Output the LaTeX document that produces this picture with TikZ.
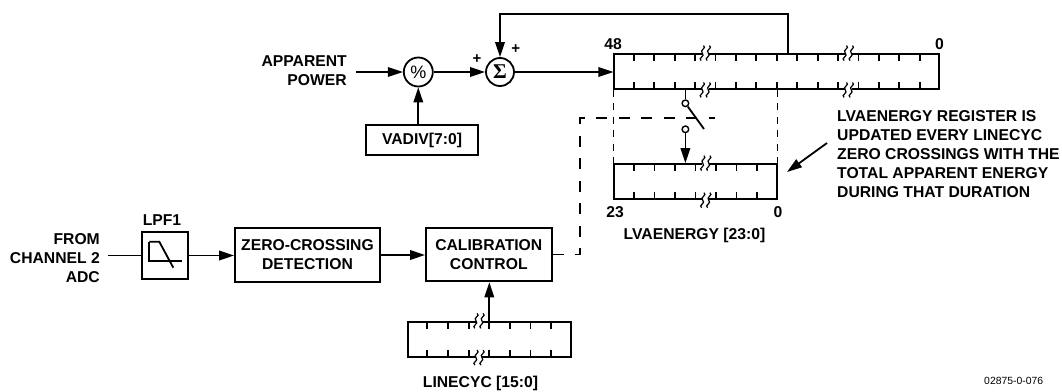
\documentclass[tikz,border=0pt]{standalone}
\usepackage{fontspec}
\setmainfont{Liberation Sans}
\newfontfamily\sigfont{Liberation Serif}
\usetikzlibrary{arrows.meta,calc}
\newcommand\dgfont{\fontsize{15.7}{19}\selectfont\bfseries}
\begin{document}
\begin{tikzpicture}[x=1pt,y=-1pt,
  >={Triangle[length=15pt,width=9.5pt]},
  ln/.style={line width=1.8pt},
  box/.style={draw,line width=1.8pt,inner sep=0pt,align=center,font=\dgfont},
  reg/.style={draw,line width=1.8pt,inner sep=0pt},
  circ/.style={draw,circle,line width=1.8pt,inner sep=0pt},
  sc/.style={draw,circle,line width=1.4pt,inner sep=0pt,minimum size=6.6pt,fill=white},
  txt/.style={inner sep=0pt,font=\dgfont},
  dsh/.style={line width=1.6pt,dash pattern=on 7pt off 6.5pt},
  dshl/.style={line width=1.6pt,dash pattern=on 11pt off 11.5pt},
  squig/.pic={
    \fill[white] (-3.4,-1.8) rectangle (3.4,1.8);
    \foreach \d in {-3,3}
      \draw[line width=1.2pt] ({\d+1.2},-7.5) .. controls ({\d+5},-5) and ({\d-3.5},-3) .. (\d,0)
        .. controls ({\d+3.5},3) and ({\d-5},5) .. ({\d-1.2},7.5);
  }]
\useasboundingbox (0,0) rectangle (1062,391);
\fill[white] (0,0) rectangle (1062,391);

% ---------- top row ----------
\node[txt,anchor=north east,align=right] (ap) at (347,55) {APPARENT\\POWER};
\coordinate (apin) at (356,72);
\node[circ,minimum size=29pt] (pct) at (418.3,72) {\fontsize{18}{18}\selectfont\mdseries\%};
\node[circ,minimum size=28pt,font=\sigfont\fontsize{21}{21}\selectfont\bfseries] (sig) at (500,72) {Σ};
\node[box,minimum width=112pt,minimum height=30pt] (vadiv) at (422,140) {VADIV[7:0]};
\node[txt,font=\fontsize{15}{15}\selectfont\bfseries] (p1) at (477,59) {+};
\node[txt,font=\fontsize{15}{15}\selectfont\bfseries] (p2) at (515.7,49.3) {+};

\draw[ln,->] (apin) -- (pct);
\draw[ln,->] (pct) -- (sig);
\draw[ln,->] (vadiv.north -| pct) -- (pct.south);

% 48-bit register
\node[reg,minimum width=325pt,minimum height=35pt] (R48) at (776.8,71.5) {};
\foreach \k in {1,...,15} {
  \draw[ln] ($(R48.north west)!{\k/16}!(R48.north east)$) -- ++(0,8);
  \draw[ln] ($(R48.south west)!{\k/16}!(R48.south east)$) -- ++(0,-8);
}
\pic at ($(R48.north west)!{4.5/16}!(R48.north east)$) {squig};
\pic at ($(R48.south west)!{4.5/16}!(R48.south east)$) {squig};
\pic at ($(R48.north west)!{11.5/16}!(R48.north east)$) {squig};
\pic at ($(R48.south west)!{11.5/16}!(R48.south east)$) {squig};
\node[txt,anchor=base] (l48) at (613,49) {48};
\node[txt,anchor=base] (l0a) at (939.5,49) {0};

\draw[ln,->] (sig.east) -- (sig.east -| R48.west);
\coordinate (fbtop) at (788,14.3);
\draw[ln,->] (fbtop |- R48.north) -- (fbtop) -| (sig.north);

% LVAENERGY register
\node[reg,minimum width=162.4pt,minimum height=35.3pt] (LVA) at (695.5,181.7) {};
\foreach \k in {1,...,7} {
  \draw[ln] ($(LVA.north west)!{\k/8}!(LVA.north east)$) -- ++(0,8);
  \draw[ln] ($(LVA.south west)!{\k/8}!(LVA.south east)$) -- ++(0,-8);
}
\pic at ($(LVA.north west)!{4.5/8}!(LVA.north east)$) {squig};
\pic at ($(LVA.south west)!{4.5/8}!(LVA.south east)$) {squig};
\node[txt,anchor=base] (l23) at (615,217) {23};
\node[txt,anchor=base] (l0b) at (778,217) {0};
\node[txt,anchor=base] (lval) at (694.5,239) {LVAENERGY [23:0]};

\draw[dsh] (R48.south west) -- (LVA.north west);
\draw[dsh] (LVA.north east |- R48.south) -- (LVA.north east);

% switch
\node[sc] (sw1) at (685.4,103.3) {};
\node[sc] (sw2) at (685.4,129.3) {};
\coordinate (blade) at (704,129);
\draw[ln] (sw1 |- R48.south) -- (sw1.north);
\draw[ln] (sw1) -- (blade);
\draw[ln,->] (sw2) -- (sw2 |- LVA.north);

% annotation
\coordinate (an1) at (827,143);
\coordinate (an2) at (787,172);
\draw[ln,->] (an1) -- (an2);
\node[txt,anchor=north west,align=left] (note) at (837,110)
  {LVAENERGY REGISTER IS\\UPDATED EVERY LINECYC\\ZERO CROSSINGS WITH THE\\TOTAL APPARENT ENERGY\\DURING THAT DURATION};

% ---------- bottom row ----------
\node[txt,anchor=north east,align=right] (from) at (100,233.3) {FROM\\CHANNEL 2\\ADC};
\coordinate (chin) at (108.3,255.5);
\node[box,minimum width=46pt,minimum height=46.6pt] (lpf) at (164.7,255.5) {};
\node[txt,anchor=base] (lpfl) at (162,225) {LPF1};
\begin{scope}[shift={(lpf.center)}]
  \draw[ln] (-15.4,-13.8) -- (-15.4,5.5) -- (17.6,5.5);
  \draw[ln] (-15.4,-13.8) -- (-5.4,-13.8) -- (8.6,12.2);
\end{scope}
\node[box,minimum width=145pt,minimum height=54.7pt] (zc) at (307.5,255) {ZERO-CROSSING\\DETECTION};
\node[box,minimum width=125.7pt,minimum height=53.7pt] (cal) at (488.8,254.5) {CALIBRATION\\CONTROL};

\draw[ln] (chin) -- (lpf.west);
\draw[ln,->] (lpf.east) -- (lpf.east -| zc.west);
\draw[ln,->] (zc.east) -- (zc.east -| cal.west);

% LINECYC register
\node[reg,minimum width=163.3pt,minimum height=35pt] (lc) at (489.3,339.2) {};
\foreach \k in {1,...,7} {
  \draw[ln] ($(lc.north west)!{\k/8}!(lc.north east)$) -- ++(0,8);
  \draw[ln] ($(lc.south west)!{\k/8}!(lc.south east)$) -- ++(0,-8);
}
\pic at ($(lc.north west)!{3.5/8}!(lc.north east)$) {squig};
\pic at ($(lc.south west)!{3.5/8}!(lc.south east)$) {squig};
\node[txt,anchor=base] (llc) at (480.5,387) {LINECYC [15:0]};
\draw[ln,->] (lc.north) -- (lc.north |- cal.south);

% dashed control line
\coordinate (dc) at (580,118);
\coordinate (dend) at (715,118);
\draw[dshl] (cal.east) -- (cal.east -| dc) -- (dc) -- (dend);

\node[inner sep=0pt,anchor=base,font=\fontsize{10.4}{12}\selectfont] (fid) at (1013.7,384) {02875-0-076};
\end{tikzpicture}
\end{document}
